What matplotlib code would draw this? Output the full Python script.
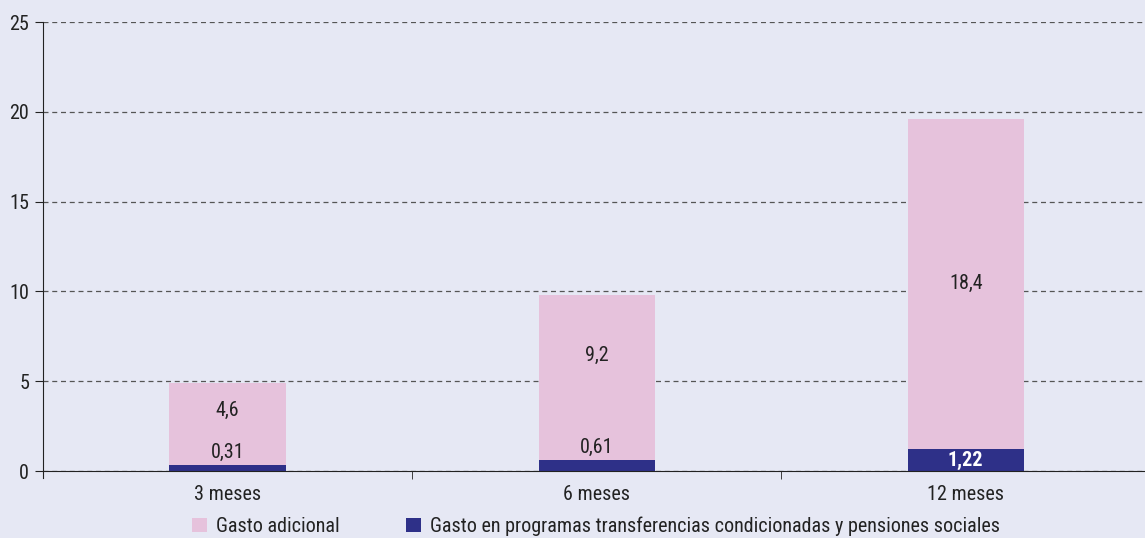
import numpy as np
import matplotlib.pyplot as plt
from matplotlib import font_manager

nombres = {f.name for f in font_manager.fontManager.ttflist}
angostas = [n for n in ["Liberation Sans Narrow", "DejaVu Sans Condensed", "Roboto Condensed"] if n in nombres]
plt.rcParams['font.family'] = angostas + ['DejaVu Sans']
plt.rcParams['font.stretch'] = 'condensed'

# datos
categorias = ["3 meses", "6 meses", "12 meses"]
gasto_programas = [0.31, 0.61, 1.22]
gasto_adicional = [4.6, 9.2, 18.4]
etiquetas_programas = ["0,31", "0,61", "1,22"]
etiquetas_adicional = ["4,6", "9,2", "18,4"]
yticks = [0, 5, 10, 15, 20, 25]

fondo = "#e6e8f4"
rosa = "#e6c2dc"
azul = "#2e3088"
fs = 14.5

fig = plt.figure(figsize=(11.45, 5.38), dpi=100, facecolor=fondo)
ax = fig.add_axes([0.0376, 0.1245, 0.967, 0.8345])
ax.set_facecolor(fondo)

x = np.arange(len(categorias))
ancho = 0.315
ax.bar(x, gasto_programas, width=ancho, color=azul, zorder=3,
       label="Gasto en programas transferencias condicionadas y pensiones sociales")
ax.bar(x, gasto_adicional, width=ancho, bottom=gasto_programas, color=rosa, zorder=2,
       label="Gasto adicional")

# etiquetas de valores
frac = [0.67, 0.635, 0.5]
for i in range(len(x)):
    b = gasto_programas[i]
    ax.text(x[i], b + gasto_adicional[i] * frac[i], etiquetas_adicional[i],
            ha="center", va="center", fontsize=fs, color="#222222", zorder=4)
    if i < 2:
        ax.text(x[i], b + 0.2, etiquetas_programas[i], ha="center", va="bottom",
                fontsize=fs, color="#222222", zorder=4)
    else:
        ax.text(x[i], b / 2, etiquetas_programas[i], ha="center", va="center",
                fontsize=fs, color="white", fontweight="bold", zorder=4)

ax.set_xlim(-0.5, 2.5)
ax.set_ylim(0, 25)
ax.set_yticks(yticks)
ax.set_yticklabels([str(v) for v in yticks], fontsize=fs, color="#222222")
ax.yaxis.grid(True, linestyle=(0, (4, 3)), color="#555555", linewidth=0.9, zorder=1)

ax.set_xticks(x)
ax.set_xticklabels(categorias, fontsize=fs, color="#222222")
ax.tick_params(axis="x", length=0, pad=10)
ax.set_xticks([0.5, 1.5], minor=True)
ax.tick_params(axis="x", which="minor", length=6, direction="out", color="#222222")
ax.tick_params(axis="y", length=6, direction="out", color="#222222", pad=4)

for s in ["top", "right"]:
    ax.spines[s].set_visible(False)
ax.spines["left"].set_color("#222222")
ax.spines["bottom"].set_color("#222222")
ax.spines["left"].set_bounds(-0.4, 25)
ax.spines["bottom"].set_zorder(5)

h, l = ax.get_legend_handles_labels()
fig.legend(h[::-1], l[::-1], loc="lower left", bbox_to_anchor=(0.152, -0.03), ncol=2,
           frameon=False, fontsize=fs, handlelength=0.72, handleheight=0.72,
           columnspacing=3.3, handletextpad=0.46, labelcolor="#222222")

fig.savefig("out.png", dpi=100, facecolor=fondo)
